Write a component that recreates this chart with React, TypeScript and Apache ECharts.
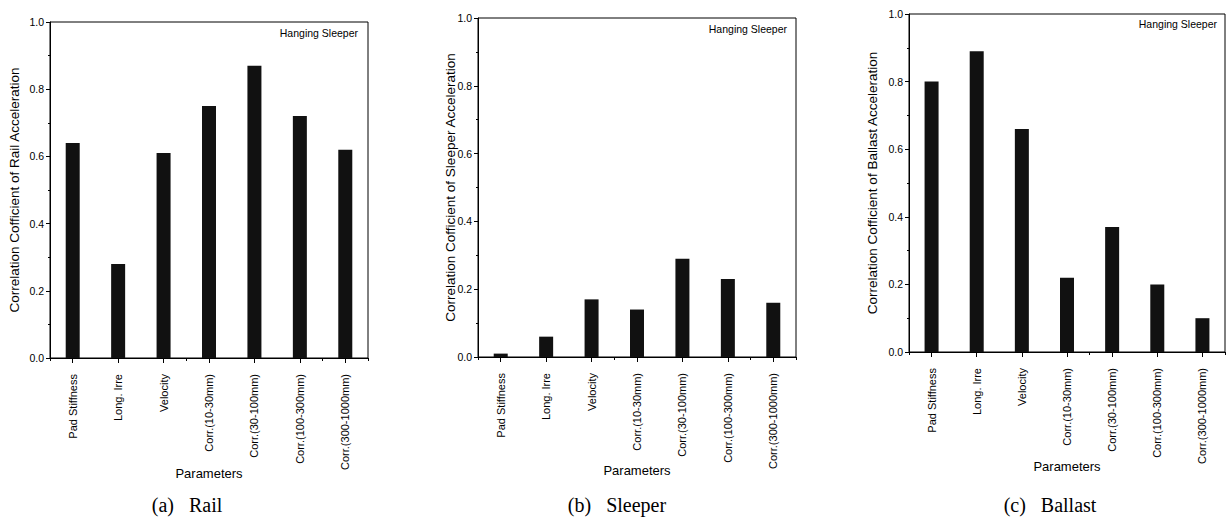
import React, { useEffect, useRef } from "react";
import * as echarts from "echarts";

// Parameters on the horizontal axis, shared by all three panels
const categories = [
  "Pad Stiffness",
  "Long. Irre",
  "Velocity",
  "Corr.(10-30mm)",
  "Corr.(30-100mm)",
  "Corr.(100-300mm)",
  "Corr.(300-1000mm)",
];

// Correlation coefficients per response
const railValues = [0.64, 0.28, 0.61, 0.75, 0.87, 0.72, 0.62];
const sleeperValues = [0.01, 0.06, 0.17, 0.14, 0.29, 0.23, 0.16];
const ballastValues = [0.8, 0.89, 0.66, 0.22, 0.37, 0.2, 0.1];

const yAxisTitles = [
  "Correlation Cofficient of Rail Acceleration",
  "Correlation Cofficient of Sleeper Acceleration",
  "Correlation Cofficient of Ballast Acceleration",
];
const captions = ["(a)\u00a0\u00a0 Rail", "(b)\u00a0\u00a0 Sleeper", "(c)\u00a0\u00a0 Ballast"];
const noteText = "Hanging Sleeper";
const xAxisTitle = "Parameters";

const SANS = "'Liberation Sans', Arial, sans-serif";
const SERIF = "'Liberation Serif', 'Times New Roman', serif";

// Layout of each panel: plot rectangle, title gaps, caption centre, note position
const panels = [
  { grid: { left: 50, top: 22, width: 318, height: 336 }, yGap: 29, xGap: 109, capX: 187, noteRight: 358, noteY: 33 },
  { grid: { left: 478, top: 18, width: 318, height: 339 }, yGap: 21, xGap: 107, capX: 617, noteRight: 787, noteY: 29 },
  { grid: { left: 909, top: 14, width: 316, height: 338 }, yGap: 30, xGap: 108, capX: 1050, noteRight: 1217, noteY: 24 },
];

const seriesValues = [railValues, sleeperValues, ballastValues];

export default function App() {
  const ref = useRef<HTMLDivElement>(null);

  useEffect(() => {
    if (!ref.current) return;
    const chart = echarts.init(ref.current, undefined, { renderer: "svg" });

    const grids: any[] = [];
    const xAxes: any[] = [];
    const yAxes: any[] = [];
    const series: any[] = [];
    const graphics: any[] = [];

    panels.forEach((p, i) => {
      grids.push({
        ...p.grid,
        show: true,
        borderColor: "#000",
        borderWidth: 1,
        backgroundColor: "transparent",
      });

      // Main category axis: ticks under each bar, rotated labels, axis title
      xAxes.push({
        type: "category",
        gridIndex: i,
        data: categories,
        boundaryGap: true,
        axisLine: { show: true, lineStyle: { color: "#000", width: 1 } },
        axisTick: { show: true, alignWithLabel: true, length: 5, lineStyle: { color: "#000" } },
        axisLabel: {
          rotate: 90,
          margin: 16,
          fontSize: 11,
          color: "#000",
          fontFamily: SANS,
        },
        name: xAxisTitle,
        nameLocation: "middle",
        nameGap: p.xGap,
        nameMoveOverlap: false,
        nameTextStyle: { fontSize: 13, color: "#000", fontFamily: SANS },
        splitLine: { show: false },
      });
      // Secondary axis: short ticks on the category boundaries
      xAxes.push({
        type: "category",
        gridIndex: i,
        data: categories,
        boundaryGap: true,
        position: "bottom",
        axisLine: { show: false },
        axisTick: { show: true, length: 3, lineStyle: { color: "#000" } },
        axisLabel: { show: false },
        splitLine: { show: false },
      });

      yAxes.push({
        type: "value",
        gridIndex: i,
        min: 0,
        max: 1,
        interval: 0.2,
        axisLine: { show: true, lineStyle: { color: "#000", width: 1 } },
        axisTick: { show: true, length: 4, lineStyle: { color: "#000" } },
        minorTick: { show: true, splitNumber: 2, length: 2, lineStyle: { color: "#000" } },
        splitLine: { show: false },
        axisLabel: {
          margin: 6,
          fontSize: 10.5,
          color: "#000",
          fontFamily: SANS,
          formatter: (v: number) => v.toFixed(1),
        },
        name: yAxisTitles[i],
        nameLocation: "middle",
        nameGap: p.yGap,
        nameMoveOverlap: false,
        nameRotate: 90,
        nameTextStyle: { fontSize: 13.5, color: "#000", fontFamily: SANS },
      });

      series.push({
        type: "bar",
        xAxisIndex: i * 2,
        yAxisIndex: i,
        data: seriesValues[i],
        barWidth: 14,
        itemStyle: { color: "#111" },
      });

      graphics.push({
        type: "text",
        right: 1227 - p.noteRight,
        top: p.noteY - 6,
        style: {
          text: noteText,
          fontSize: 10.5,
          fontFamily: SANS,
          fill: "#000",
        },
      });
      graphics.push({
        type: "text",
        x: p.capX,
        y: 505,
        style: {
          text: captions[i],
          fontSize: 20,
          fontFamily: SERIF,
          fill: "#000",
          align: "center",
          verticalAlign: "middle",
        },
      });
    });

    chart.setOption({
      animation: false,
      backgroundColor: "#fff",
      grid: grids,
      xAxis: xAxes,
      yAxis: yAxes,
      series,
      graphic: graphics,
    });

    return () => chart.dispose();
  }, []);

  return (
    <div
      ref={ref}
      style={{ position: "fixed", left: 0, top: 0, width: 1227, height: 517 }}
    />
  );
}
